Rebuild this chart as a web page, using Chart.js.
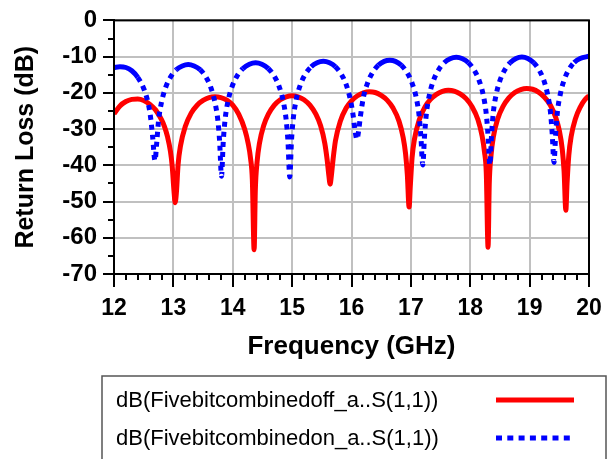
<!DOCTYPE html>
<html>
<head>
<meta charset="utf-8">
<script src="https://cdn.jsdelivr.net/npm/chart.js@4.4.0/dist/chart.umd.min.js"></script>
<style>
  html, body { margin: 0; padding: 0; background: #fff; }
  #wrap { width: 613px; height: 459px; }
</style>
</head>
<body>
<div id="wrap"><canvas id="myChart" width="613" height="459"></canvas></div>
<script>
// tần số (GHz) và return loss (dB)
const offFreq = [12.0, 12.1, 12.2, 12.3, 12.4, 12.5, 12.6, 12.7, 12.8, 12.85, 12.9, 12.95, 12.98, 13.01, 13.03,
  13.05, 13.08, 13.12, 13.2, 13.3, 13.4, 13.5, 13.6, 13.7, 13.8, 13.9, 14.0, 14.1, 14.2, 14.26, 14.3, 14.33, 14.36,
  14.38, 14.41, 14.45, 14.52, 14.6, 14.7, 14.8, 14.9, 15.0, 15.1, 15.2, 15.3, 15.4, 15.48, 15.55, 15.59, 15.62, 15.64,
  15.66, 15.69, 15.73, 15.81, 15.91, 16.0, 16.1, 16.2, 16.3, 16.4, 16.5, 16.6, 16.7, 16.8, 16.87, 16.91, 16.94, 16.97,
  16.99, 17.02, 17.06, 17.14, 17.24, 17.33, 17.43, 17.53, 17.63, 17.73, 17.83, 17.93, 18.03, 18.13, 18.2, 18.24, 18.27, 18.3,
  18.32, 18.35, 18.39, 18.46, 18.55, 18.65, 18.75, 18.85, 18.95, 19.05, 19.15, 19.25, 19.35, 19.44, 19.5, 19.55, 19.58, 19.61,
  19.63, 19.66, 19.7, 19.77, 19.86, 19.93, 20.0];
const offDb = [-25.8, -23.6, -22.4, -21.8, -21.7, -22.1, -23.1, -24.7, -27.4, -29.3, -32.0, -36.1, -40.2, -47.0, -50.3,
  -47.7, -39.7, -34.6, -29.3, -25.6, -23.4, -22.1, -21.3, -21.1, -21.3, -22.0, -23.4, -25.9, -30.0, -34.0, -38.1, -44.0, -63.3,
  -47.0, -39.0, -33.9, -29.1, -25.9, -23.4, -21.9, -21.1, -20.8, -21.1, -21.9, -23.4, -25.9, -29.1, -33.9, -38.5, -43.0, -45.2,
  -43.0, -38.3, -33.2, -27.9, -24.2, -22.2, -20.8, -20.0, -19.7, -19.9, -20.7, -22.0, -24.2, -27.8, -32.3, -36.7, -42.5, -51.5,
  -45.9, -37.9, -32.8, -27.5, -23.8, -21.8, -20.4, -19.6, -19.3, -19.5, -20.3, -21.6, -23.8, -27.4, -31.9, -36.3, -42.1, -62.6,
  -45.2, -37.3, -32.1, -27.3, -23.8, -21.4, -19.9, -19.1, -18.8, -19.0, -19.8, -21.2, -23.4, -26.8, -30.4, -35.6, -41.6, -52.4,
  -45.1, -37.2, -32.0, -27.2, -23.7, -21.9, -20.8];

const onFreq = [12.0, 12.1, 12.2, 12.3, 12.4, 12.5, 12.56, 12.61, 12.65, 12.69,
  12.72, 12.75, 12.8, 12.87, 12.95, 13.05, 13.15, 13.25, 13.35, 13.45, 13.55, 13.63, 13.7, 13.75, 13.78, 13.81,
  13.84, 13.87, 13.92, 13.99, 14.07, 14.17, 14.28, 14.385, 14.49, 14.6, 14.7, 14.78, 14.85, 14.9, 14.93, 14.96,
  14.99, 15.02, 15.07, 15.14, 15.22, 15.32, 15.42, 15.525, 15.63, 15.73, 15.83, 15.91, 15.98, 16.03, 16.06, 16.09,
  16.12, 16.15, 16.2, 16.27, 16.35, 16.45, 16.55, 16.645, 16.74, 16.84, 16.94, 17.02, 17.09, 17.14, 17.17, 17.2,
  17.23, 17.26, 17.31, 17.38, 17.46, 17.56, 17.66, 17.765, 17.87, 17.97, 18.07, 18.15, 18.22, 18.27, 18.3, 18.33,
  18.36, 18.39, 18.44, 18.5, 18.58, 18.67, 18.77, 18.87, 18.97, 19.07, 19.16, 19.24, 19.3, 19.35, 19.38, 19.41,
  19.44, 19.47, 19.52, 19.58, 19.66, 19.75, 19.85, 20.0];
const onDb = [-13.0, -12.8, -13.0, -13.9, -15.7, -18.8, -21.8, -26.0, -32.0, -38.7,
  -33.7, -27.7, -22.6, -18.5, -15.7, -13.6, -12.6, -12.2, -12.6, -13.6, -15.7, -18.5, -22.6, -27.7, -33.7, -43.0,
  -33.5, -27.5, -22.3, -18.2, -15.4, -13.3, -12.1, -11.7, -12.1, -13.3, -15.4, -18.2, -22.3, -27.5, -33.5, -43.2,
  -33.0, -27.0, -21.8, -17.7, -14.9, -12.8, -11.7, -11.3, -11.7, -12.8, -14.9, -17.7, -21.8, -26.5, -30.5, -32.8,
  -30.5, -26.5, -21.3, -17.3, -14.5, -12.4, -11.3, -11.0, -11.3, -12.4, -14.5, -17.3, -21.3, -26.5, -32.5, -39.9,
  -31.9, -25.9, -20.7, -16.6, -13.8, -11.7, -10.6, -10.2, -10.6, -11.7, -13.8, -16.6, -20.7, -25.9, -31.9, -39.9,
  -31.2, -25.2, -20.2, -16.6, -13.7, -11.7, -10.5, -10.1, -10.5, -11.7, -13.7, -16.6, -20.2, -25.2, -31.2, -39.2,
  -31.0, -25.0, -20.1, -16.5, -13.6, -11.6, -10.5, -9.9];

const seriesLabels = ['dB(Fivebitcombinedoff_a..S(1,1))', 'dB(Fivebitcombinedon_a..S(1,1))'];
const xTitle = 'Frequency (GHz)';
const yTitle = 'Return Loss (dB)';

const FONT = '"Liberation Sans", Arial, sans-serif';
Chart.defaults.font.family = FONT;
Chart.defaults.color = '#000';

const toPoints = (xs, ys) => xs.map((x, i) => ({ x: x, y: ys[i] }));
// kiểm tra tick chính
const isMajor = (v, step) => Math.abs(v / step - Math.round(v / step)) < 1e-6;
// đoạn dốc thì vẽ chấm vuông, đoạn thoải vẽ liền
const steep = (ctx) => {
  const dx = Math.abs(ctx.p1.x - ctx.p0.x) || 0.01;
  return Math.abs(ctx.p1.y - ctx.p0.y) / dx > 1.2;
};

// vạch chia phụ, khung, chú thích
const framePlugin = {
  id: 'framePlugin',
  afterDraw(chart) {
    const ctx = chart.ctx;
    const a = chart.chartArea;
    const xs = chart.scales.x, ys = chart.scales.y;
    ctx.save();
    ctx.strokeStyle = '#000';
    ctx.lineWidth = 2;
    ctx.beginPath();
    xs.ticks.forEach(t => {
      if (isMajor(t.value, 1)) return;
      const px = Math.round(xs.getPixelForValue(t.value));
      ctx.moveTo(px, a.bottom);
      ctx.lineTo(px, a.bottom + 6);
    });
    ys.ticks.forEach(t => {
      if (isMajor(t.value, 10)) return;
      const py = Math.round(ys.getPixelForValue(t.value));
      ctx.moveTo(a.left - 6, py);
      ctx.lineTo(a.left, py);
    });
    ctx.stroke();
    ctx.strokeRect(a.left, a.top, a.right - a.left, a.bottom - a.top);

    // hộp chú thích
    ctx.strokeStyle = '#555';
    ctx.lineWidth = 1.5;
    ctx.strokeRect(102, 376, 504, 100);
    ctx.font = '22px ' + FONT;
    ctx.fillStyle = '#000';
    ctx.textBaseline = 'middle';
    const rows = [401, 439];
    chart.data.datasets.forEach((ds, i) => {
      ctx.fillText(ds.label, 116, rows[i]);
      ctx.strokeStyle = ds.borderColor;
      ctx.lineWidth = 5;
      ctx.setLineDash(i === 0 ? [] : [6, 5.3]);
      ctx.beginPath();
      ctx.moveTo(496, rows[i] - 1);
      ctx.lineTo(574, rows[i] - 1);
      ctx.stroke();
    });
    ctx.restore();
  }
};

const config = {
  type: 'line',
  data: {
    datasets: [{
      label: seriesLabels[0],
      data: toPoints(offFreq, offDb),
      borderColor: '#ff0000',
      borderWidth: 5,
      pointRadius: 0,
      cubicInterpolationMode: 'monotone',
      order: 2
    }, {
      label: seriesLabels[1],
      data: toPoints(onFreq, onDb),
      borderColor: '#0000ff',
      borderWidth: 5,
      pointRadius: 0,
      cubicInterpolationMode: 'monotone',
      segment: {
        borderDash: ctx => steep(ctx) ? [5, 5] : undefined
      },
      order: 1
    }]
  },
  options: {
    responsive: false,
    animation: false,
    layout: { padding: { top: 17, right: 24, bottom: 97, left: 0 } },
    plugins: {
      legend: { display: false },
      tooltip: { enabled: false }
    },
    scales: {
      x: {
        type: 'linear',
        min: 12,
        max: 20,
        afterFit: (s) => { s.height = 88; },
        border: { display: true, color: '#000', width: 2 },
        grid: {
          lineWidth: 2,
          tickLength: 13,
          tickWidth: 2,
          color: c => isMajor(c.tick.value, 1) ? '#c0c0c0' : 'rgba(0,0,0,0)',
          tickColor: c => isMajor(c.tick.value, 1) ? '#000' : 'rgba(0,0,0,0)'
        },
        ticks: {
          stepSize: 0.2,
          maxTicksLimit: 100,
          autoSkip: false,
          maxRotation: 0,
          padding: 8,
          font: { size: 23, weight: 'bold' },
          callback: v => isMajor(v, 1) ? String(Math.round(v)) : ''
        },
        title: {
          display: true,
          text: xTitle,
          padding: 0,
          font: { size: 26, weight: 'bold' }
        }
      },
      y: {
        min: -70,
        max: 0,
        afterFit: (s) => { s.width = 114; },
        border: { display: true, color: '#000', width: 2 },
        grid: {
          lineWidth: 2,
          tickLength: 11,
          tickWidth: 2,
          color: c => isMajor(c.tick.value, 10) ? '#c0c0c0' : 'rgba(0,0,0,0)',
          tickColor: c => isMajor(c.tick.value, 10) ? '#000' : 'rgba(0,0,0,0)'
        },
        ticks: {
          stepSize: 5,
          maxTicksLimit: 100,
          autoSkip: false,
          padding: 6,
          font: { size: 24, weight: 'bold' },
          callback: v => isMajor(v, 10) ? String(Math.round(v)) : ''
        },
        title: {
          display: true,
          text: yTitle,
          padding: { top: 11, bottom: 0 },
          font: { size: 25, weight: 'bold' }
        }
      }
    }
  },
  plugins: [framePlugin]
};

const myChart = new Chart(document.getElementById('myChart'), config);
</script>
</body>
</html>
